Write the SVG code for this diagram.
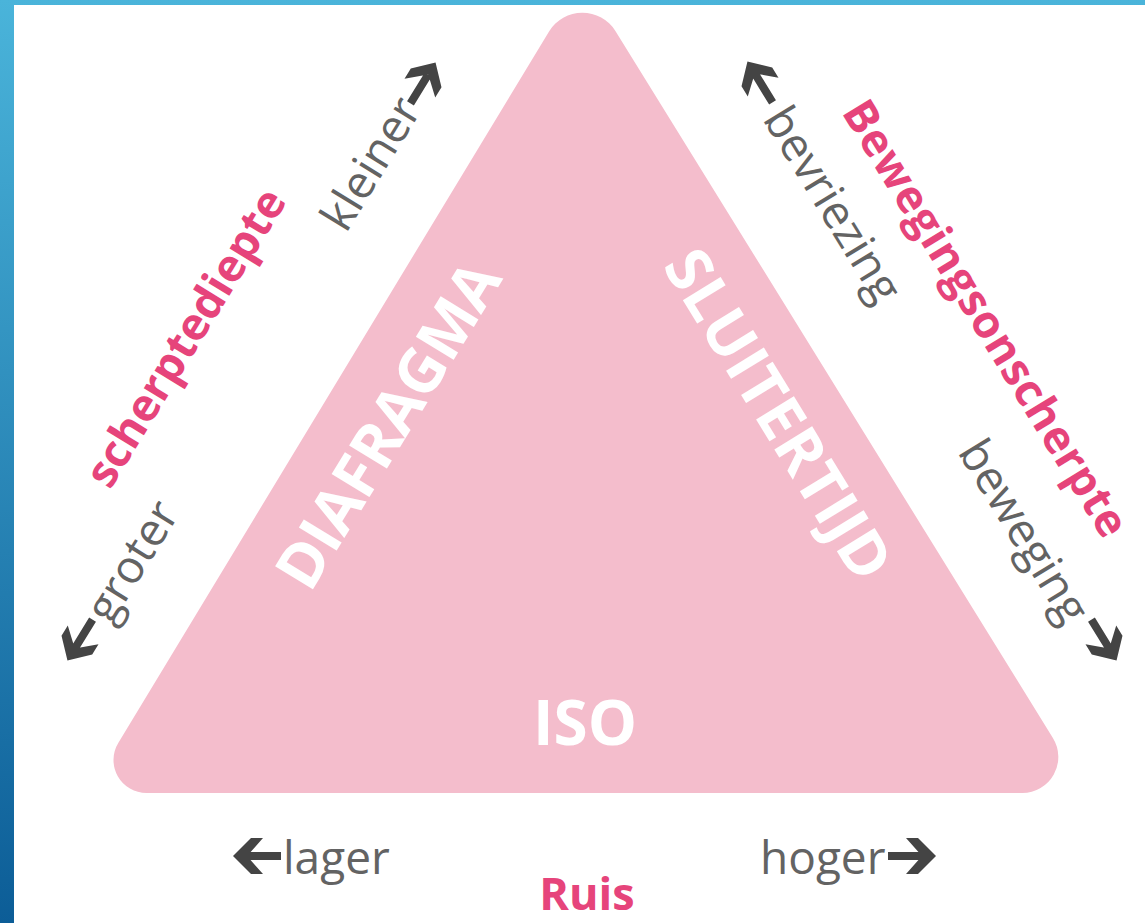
<svg xmlns="http://www.w3.org/2000/svg" width="1145" height="923" viewBox="0 0 1145 923">
<defs>
<linearGradient id="bg" x1="0" y1="0" x2="0" y2="1">
<stop offset="0" stop-color="#4ab4da"/>
<stop offset="1" stop-color="#0c5d97"/>
</linearGradient>
<path id="arr" d="M-24,-4 H10 V4 H-24 Z M-6,-18 L6,-18 L24,0 L6,18 L-6,18 L10,0 Z"/>
</defs>
<style>
.w{font-family:"Open Sans","Liberation Sans",sans-serif;font-weight:700;fill:#ffffff;font-size:62px}
.p{font-family:"Open Sans","Liberation Sans",sans-serif;font-weight:700;fill:#e6447b;font-size:45px}
.g{font-family:"Open Sans","Liberation Sans",sans-serif;font-weight:400;fill:#636363;font-size:46px}
.a{fill:#444444}
</style>
<rect x="0" y="0" width="1145" height="923" fill="url(#bg)"/>
<rect x="14" y="5" width="1131" height="918" fill="#ffffff"/>
<g id="triangle">
<path d="M146.8,793 L1022.3,793 A36,36 0 0 0 1052.9,738 L615.4,30.9 A39,39 0 0 0 549.2,31.2 L118.4,742.7 A33,33 0 0 0 146.8,793 Z" fill="#f4bdcc"/>
</g>
<g id="node-diafragma"><text class="w" transform="translate(310,594) rotate(-58.5)" textLength="370">DIAFRAGMA</text></g>
<g id="node-sluitertijd"><text class="w" transform="translate(662,266) rotate(58.5)" textLength="375">SLUITERTIJD</text></g>
<g id="node-iso"><text class="w" x="585" y="745" text-anchor="middle">ISO</text></g>
<g id="label-scherptediepte"><text class="p" transform="translate(110,490.6) rotate(-58.5)" textLength="340">scherptediepte</text></g>
<g id="label-kleiner"><text class="g" transform="translate(346,234) rotate(-58.5)">kleiner</text></g>
<g id="label-groter"><text class="g" transform="translate(111,626) rotate(-58.5)">groter</text></g>
<g id="label-bewegingsonscherpte"><text class="p" transform="translate(841,112) rotate(58.5)" textLength="503">Bewegingsonscherpte</text></g>
<g id="label-bevriezing"><text class="g" transform="translate(762,119) rotate(58.5)">bevriezing</text></g>
<g id="label-beweging"><text class="g" transform="translate(957,452) rotate(58.5)">beweging</text></g>
<g id="label-lager"><text class="g" x="283" y="874">lager</text></g>
<g id="label-hoger"><text class="g" x="760" y="874">hoger</text></g>
<g id="label-ruis"><text class="p" x="587" y="910" text-anchor="middle">Ruis</text></g>
<g id="connectors" class="a">
<use href="#arr" transform="translate(257,856) rotate(180)"/>
<use href="#arr" transform="translate(912,856)"/>
<use href="#arr" transform="translate(423,83) rotate(-58.5)"/>
<use href="#arr" transform="translate(80,640) rotate(121.5)"/>
<use href="#arr" transform="translate(760,82) rotate(238.5)"/>
<use href="#arr" transform="translate(1104,640) rotate(58.5)"/>
</g>
</svg>
